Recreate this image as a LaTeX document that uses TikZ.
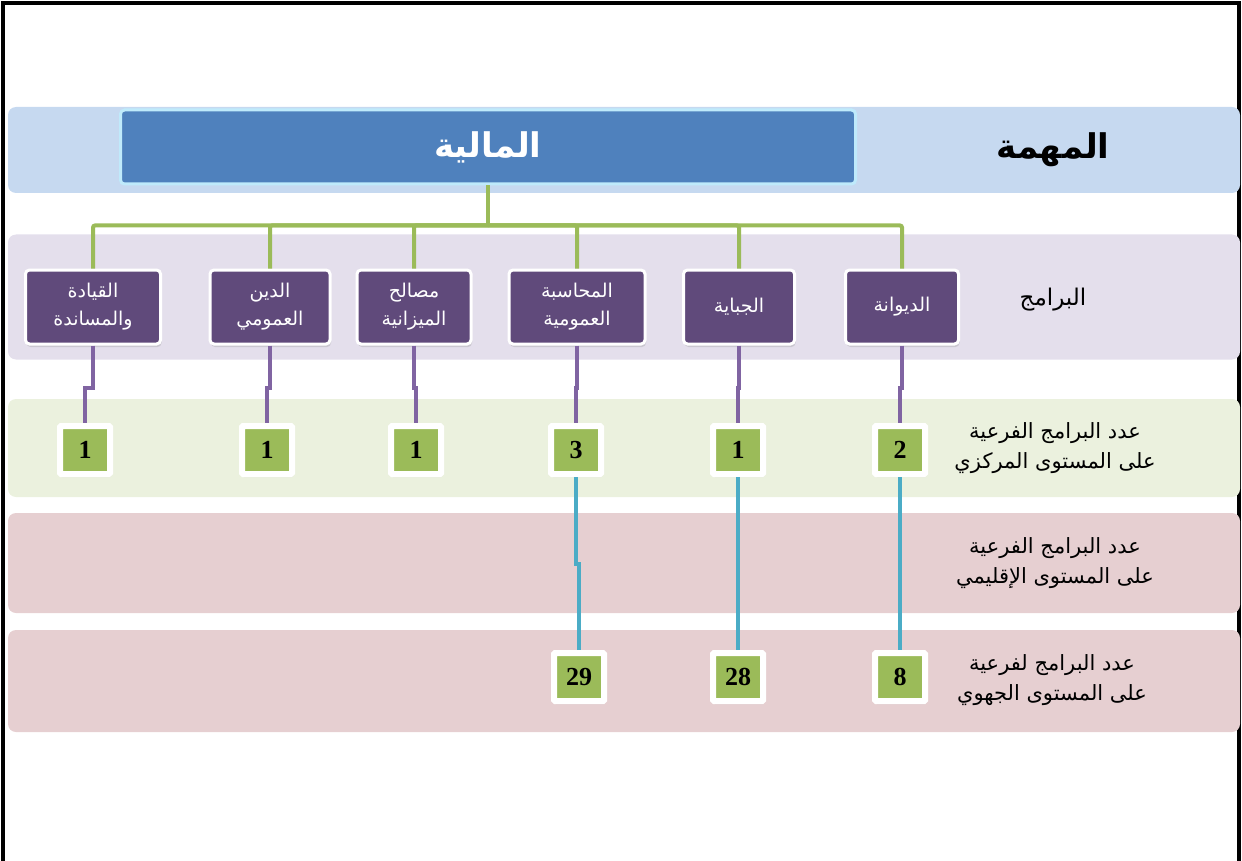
\documentclass[tikz,border=0pt]{standalone}
\usepackage{fontspec}
\usepackage{xcolor}
\usepackage{tikz}
\usetikzlibrary{positioning,calc,shadows}
\TeXXeTstate=1
\newfontfamily\arabicfont[Script=Arabic]{DejaVu Sans}
\newfontfamily\numfont{Liberation Serif}

\definecolor{bandblue}{HTML}{C6D9F0}
\definecolor{bandlilac}{HTML}{E4DFEC}
\definecolor{bandgreen}{HTML}{EBF1DE}
\definecolor{bandpink}{HTML}{E6CFD1}
\definecolor{topblue}{HTML}{4F81BD}
\definecolor{progpurple}{HTML}{604A7B}
\definecolor{boxgreen}{HTML}{9BBB59}
\definecolor{linepurple}{HTML}{8064A2}
\definecolor{lineblue}{HTML}{4BACC6}

\tikzset{
  band/.style={rounded corners=8pt, inner sep=0pt, minimum width=1232pt},
  progbox/.style={fill=progpurple, draw=white, line width=3pt, rounded corners=4pt,
    minimum height=74pt, text=white, align=center, inner sep=2pt,
    font=\arabicfont\fontsize{19}{28}\selectfont,
    drop shadow={opacity=0.25, shadow xshift=1pt, shadow yshift=-3pt}},
  numbox/.style={fill=boxgreen, draw=white, line width=6pt, rounded corners=1pt,
    minimum width=50pt, minimum height=48pt, inner sep=1pt,
    font=\numfont\bfseries\fontsize{26}{28}\selectfont,
    drop shadow={opacity=0.25, shadow xshift=1pt, shadow yshift=-3pt}},
  rowlabel/.style={align=center, font=\arabicfont\fontsize{21}{30}\selectfont},
  treeline/.style={boxgreen, line width=4pt, rounded corners=2pt},
  subline/.style={linepurple, line width=4pt},
  regline/.style={lineblue, line width=4pt}
}

\begin{document}
\begin{tikzpicture}[x=1pt, y=-1pt]
        \useasboundingbox (0,0) rectangle (1242,861);
        \draw [line width=4pt] (3,861) -- (3,3) -- (1239,3) -- (1239,861);

        % bands
        \node (missionband) [band, fill=bandblue, minimum height=86pt] at (624,150) {};
        \node (progband) [band, fill=bandlilac, minimum height=125pt] at (624,297) {};
        \node (centralband) [band, fill=bandgreen, minimum height=98pt] at (624,448) {};
        \node (provband) [band, fill=bandpink, minimum height=100pt] at (624,563) {};
        \node (regband) [band, fill=bandpink, minimum height=102pt] at (624,681) {};

        % mission
        \node (finance) [fill=topblue, draw=white!75!cyan, line width=3pt, rounded corners=4pt,
          minimum width=735pt, minimum height=74pt, text=white,
          font=\arabicfont\bfseries\fontsize{34}{38}\selectfont] at (488,147) {\beginR المالية\endR};
        \node (mission) [font=\arabicfont\bfseries\fontsize{34}{38}\selectfont] at (1053,150) {\beginR المهمة\endR};

        % programmes
        \node (p1) [progbox, minimum width=135pt] at (93,307) {\beginR القيادة\endR\\\beginR والمساندة\endR};
        \node (p2) [progbox, minimum width=120pt] at (270,307) {\beginR الدين\endR\\\beginR العمومي\endR};
        \node (p3) [progbox, minimum width=114pt] at (414,307) {\beginR مصالح\endR\\\beginR الميزانية\endR};
        \node (p4) [progbox, minimum width=136pt] at (577,307) {\beginR المحاسبة\endR\\\beginR العمومية\endR};
        \node (p5) [progbox, minimum width=111pt] at (739,307) {\beginR الجباية\endR};
        \node (p6) [progbox, minimum width=113pt] at (902,307) {\beginR الديوانة\endR};
        \node (programmes) [font=\arabicfont\fontsize{23}{26}\selectfont] at (1053,300) {\beginR البرامج\endR};

        \coordinate (bar) at ($(finance.south)+(0,40)$);
        \draw [treeline] (finance.south) -- (bar);
        \foreach \p in {p1,p2,p3,p4,p5,p6}
          \draw [treeline] (\p.north) |- (bar);

        % central level
        \node (c1) [numbox] at (85,450) {1};
        \node (c2) [numbox] at (267,450) {1};
        \node (c3) [numbox] at (416,450) {1};
        \node (c4) [numbox] at (576,450) {3};
        \node (c5) [numbox] at (738,450) {1};
        \node (c6) [numbox] at (900,450) {2};
        \node (central) [rowlabel] at (1055,448) {\beginR عدد البرامج الفرعية\endR\\\beginR على المستوى المركزي\endR};

        \foreach \i in {1,...,6}
          \draw [subline] (p\i.south) |- ($(p\i.south)!0.55!(c\i.north)$) -| (c\i.north);

        % provincial level
        \node (prov) [rowlabel] at (1055,563) {\beginR عدد البرامج الفرعية\endR\\\beginR على المستوى الإقليمي\endR};

        % regional level
        \node (r4) [numbox] at (579,677) {29};
        \node (r5) [numbox] at (738,677) {28};
        \node (r6) [numbox] at (900,677) {8};
        \node (regional) [rowlabel] at (1052,680) {\beginR عدد البرامج لفرعية\endR\\\beginR على المستوى الجهوي\endR};

        \foreach \i in {4,5,6}
          \draw [regline] (c\i.south) |- ($(c\i.south)!0.5!(r\i.north)$) -| (r\i.north);
    \end{tikzpicture}
\end{document}
